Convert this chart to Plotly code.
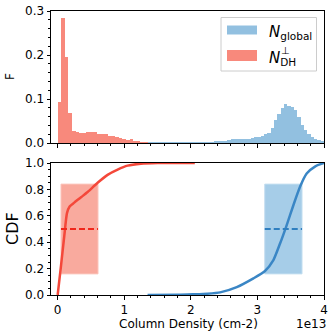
import plotly.graph_objects as go
from plotly.subplots import make_subplots

# ---------------- data (column density in units of 1e13 cm-2) ----------------
red_bin_start = 0.0
red_bin_width = 0.054
red_hist = [0.093, 0.285, 0.195, 0.068, 0.027, 0.024, 0.023, 0.023, 0.024, 0.026,
            0.024, 0.020, 0.020, 0.020, 0.017, 0.015, 0.013, 0.012, 0.010, 0.006,
            0.008, 0.004, 0.003, 0.002, 0.001]

blue_bin_start = 1.35
blue_bin_width = 0.05
blue_hist = [0.0002, 0.0002, 0.0002, 0.0002, 0.0003, 0.0003, 0.0003, 0.0004,
             0.0004, 0.0005, 0.0005, 0.0006, 0.0006, 0.0007, 0.0008, 0.0009,
             0.001, 0.001, 0.002, 0.002, 0.003, 0.003, 0.004,
             0.005, 0.006,
             0.009, 0.008, 0.008, 0.008, 0.009, 0.010, 0.012, 0.013,
             0.014, 0.017, 0.021, 0.022, 0.033, 0.052, 0.065, 0.079, 0.088, 0.084,
             0.082, 0.076, 0.060, 0.042, 0.030, 0.021, 0.014, 0.009, 0.006, 0.003]

red_cdf_x = [0.0, 0.05, 0.10, 0.14, 0.18, 0.25, 0.35, 0.45, 0.60, 0.75, 0.90, 1.05, 1.25, 1.5, 2.06]
red_cdf_y = [0.0, 0.22, 0.45, 0.62, 0.67, 0.70, 0.74, 0.78, 0.85, 0.91, 0.95, 0.98, 0.995, 1.0, 1.0]

blue_cdf_x = [1.35, 1.8, 2.03, 2.25, 2.44, 2.69, 2.94, 3.11, 3.24, 3.34, 3.44, 3.54, 3.64, 3.74, 3.87, 4.0]
blue_cdf_y = [0.0, 0.001, 0.005, 0.01, 0.02, 0.06, 0.126, 0.18, 0.265, 0.39, 0.53, 0.68, 0.82, 0.92, 0.975, 1.0]

# percentile boxes: [x_low, x_high], [cdf_low, cdf_high], median level
red_box_x = [0.05, 0.606]
blue_box_x = [3.11, 3.67]
box_y = [0.16, 0.84]
median_level = 0.5

x_ticks = [0, 1, 2, 3, 4]
x_tick_labels = ["0", "1", "2", "3", "4"]

# ---------------- colours ----------------
C_BLUE_H = "#92c0e0"
C_RED_H = "#f8897c"
C_BLUE_L = "#3a86c5"
C_RED_L = "#f4483a"
C_BLUE_BOX = "#a6cde8"
C_RED_BOX = "#f9aa9e"

FONT = "DejaVu Sans"

W, H = 333, 334
L, R, T, B = 51, 324, 11, 295  # plot area in page px

fig = make_subplots(rows=2, cols=1, shared_xaxes=False, vertical_spacing=20 / (B - T))

red_centers = [red_bin_start + red_bin_width * (i + 0.5) for i in range(len(red_hist))]
blue_centers = [blue_bin_start + blue_bin_width * (i + 0.5) for i in range(len(blue_hist))]

fig.add_trace(go.Bar(x=blue_centers, y=blue_hist, width=blue_bin_width,
                     marker=dict(color=C_BLUE_H, line=dict(width=0)), showlegend=False), row=1, col=1)
fig.add_trace(go.Bar(x=red_centers, y=red_hist, width=red_bin_width,
                     marker=dict(color=C_RED_H, line=dict(width=0)), showlegend=False), row=1, col=1)

# boxes
for bx, fillc, edgec in [(red_box_x, C_RED_BOX, "#fbc4bb"), (blue_box_x, C_BLUE_BOX, "#c3def0")]:
    fig.add_shape(type="rect", xref="x2", yref="y2", x0=bx[0], x1=bx[1], y0=box_y[0], y1=box_y[1],
                  fillcolor=fillc, line=dict(color=edgec, width=1), layer="below")

fig.add_trace(go.Scatter(x=red_cdf_x, y=red_cdf_y, mode="lines", line=dict(color=C_RED_L, width=2.5, shape="spline", smoothing=0.6),
                         showlegend=False), row=2, col=1)
fig.add_trace(go.Scatter(x=blue_cdf_x, y=blue_cdf_y, mode="lines", line=dict(color=C_BLUE_L, width=2.5, shape="spline", smoothing=0.6),
                         showlegend=False), row=2, col=1)
fig.add_trace(go.Scatter(x=red_box_x, y=[median_level, median_level], mode="lines",
                         line=dict(color="#f0281c", width=2, dash="6px,3px"), showlegend=False), row=2, col=1)
fig.add_trace(go.Scatter(x=blue_box_x, y=[median_level, median_level], mode="lines",
                         line=dict(color="#2f7fc0", width=2, dash="6px,3px"), showlegend=False), row=2, col=1)

axis_common = dict(showline=True, linecolor="black", linewidth=1, mirror=True, showgrid=False, zeroline=False,
                   ticks="outside", ticklen=3.5, tickcolor="black", tickwidth=1, automargin=False,
                   tickfont=dict(family=FONT, size=12, color="black"))

fig.update_xaxes(range=[-0.1, 4.0], tickvals=x_ticks, ticktext=x_tick_labels,
                 minor=dict(ticks="outside", dtick=0.2, tick0=0, ticklen=2, tickcolor="black"), **axis_common)
fig.update_xaxes(showticklabels=False, row=1, col=1)
fig.update_yaxes(row=1, col=1, range=[0, 0.3], tickvals=[0, 0.1, 0.2, 0.3], ticktext=["0.0", "0.1", "0.2", "0.3"],
                 minor=dict(ticks="outside", dtick=0.02, tick0=0, ticklen=2, tickcolor="black"), **axis_common)
fig.update_yaxes(row=2, col=1, range=[0, 1.0], tickvals=[0, 0.2, 0.4, 0.6, 0.8, 1.0],
                 ticktext=["0.0", "0.2", "0.4", "0.6", "0.8", "1.0"],
                 minor=dict(ticks="outside", dtick=0.05, tick0=0, ticklen=2, tickcolor="black"), **axis_common)

fig.update_layout(width=W, height=H, margin=dict(l=L, r=W - R, t=T, b=H - B, autoexpand=False),
                  paper_bgcolor="white", plot_bgcolor="white", bargap=0, barmode="overlay",
                  font=dict(family=FONT, color="black"), hovermode=False)


def px_x(p):  # page pixel -> paper fraction
    return (p - L) / (R - L)


def px_y(p):
    return (B - p) / (B - T)


anns = [
    dict(text="F", x=10, y=77, textangle=-90, size=12),
    dict(text="CDF", x=12, y=229, textangle=-90, size=16),
    dict(text="Column Density (cm-2)", x=188, y=323.5, textangle=0, size=12),
    dict(text="1e13", x=311, y=323.5, textangle=0, size=12),
]
for a in anns:
    fig.add_annotation(text=a["text"], xref="paper", yref="paper",
                       x=px_x(a["x"]), y=px_y(a["y"]),
                       xanchor="center", yanchor="middle", showarrow=False, textangle=a["textangle"],
                       font=dict(family=FONT, size=a["size"], color="black"))

# legend (drawn manually)
fig.add_shape(type="rect", xref="paper", yref="paper", x0=px_x(221), x1=px_x(316.5), y0=px_y(71), y1=px_y(17.5),
              fillcolor="rgba(255,255,255,0.8)", line=dict(color="#cccccc", width=1))
fig.add_shape(type="rect", xref="paper", yref="paper", x0=px_x(227), x1=px_x(257), y0=px_y(34.5), y1=px_y(25.5),
              fillcolor=C_BLUE_H, line=dict(width=0))
fig.add_shape(type="rect", xref="paper", yref="paper", x0=px_x(227), x1=px_x(257), y0=px_y(61), y1=px_y(50),
              fillcolor=C_RED_H, line=dict(width=0))
fig.add_annotation(text="<i>N</i><sub>global</sub>", xref="paper", yref="paper", x=px_x(267), y=px_y(32),
                   xanchor="left", yanchor="middle", showarrow=False, font=dict(family=FONT, size=15, color="black"))
fig.add_annotation(text="<i>N</i><sub>DH</sub>", xref="paper", yref="paper", x=px_x(267), y=px_y(58),
                   xanchor="left", yanchor="middle", showarrow=False, font=dict(family=FONT, size=15, color="black"))
fig.add_annotation(text="⊥", xref="paper", yref="paper", x=px_x(285), y=px_y(50),
                   xanchor="center", yanchor="middle", showarrow=False, font=dict(family=FONT, size=10, color="black"))

fig.write_html("out.html", config={"displayModeBar": False},
               post_script="document.body.style.margin='0px';document.body.style.padding='0px';")
